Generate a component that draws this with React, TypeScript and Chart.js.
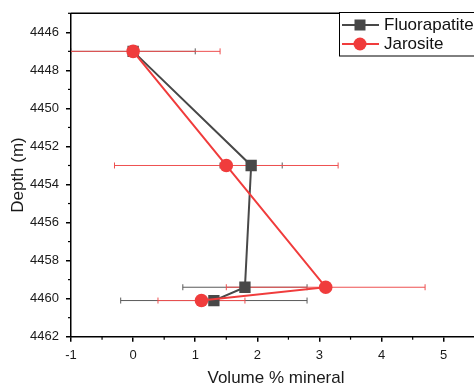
import React, { useEffect, useRef } from 'react';
import { Chart, registerables } from 'chart.js';

Chart.register(...registerables);

// ---- data ----
const seriesNames = ['Fluorapatite', 'Jarosite'];
const fluorVolume = [0, 1.9, 1.8, 1.3];
const fluorDepth = [4447, 4453, 4459.4, 4460.1];
const fluorErr = [1.0, 0.5, 1.0, 1.5];
const jarVolume = [0, 1.5, 3.1, 1.1];
const jarDepth = [4447, 4453, 4459.4, 4460.1];
const jarErr = [1.4, 1.8, 1.6, 0.7];

const xTicks = [-1, 0, 1, 2, 3, 4, 5];
const xMinorTicks = [-0.5, 0.5, 1.5, 2.5, 3.5, 4.5, 5.5];
const yTicks = [4446, 4448, 4450, 4452, 4454, 4456, 4458, 4460, 4462];
const yMinorTicks = [4445, 4447, 4449, 4451, 4453, 4455, 4457, 4459, 4461];
const xMin = -1;
const xMax = 5.6;
const yMin = 4445;
const yMax = 4462;
const xTitle = 'Volume % mineral';
const yTitle = 'Depth (m)';

const FONT = '"Liberation Sans", Arial, sans-serif';
const GRAY = 'rgb(72,72,72)';
const GRAY_ERR = 'rgb(90,90,90)';
const RED = 'rgb(240,60,60)';
const RED_ERR = 'rgb(238,80,80)';

const errorBarPlugin = {
  id: 'errorBars',
  beforeDatasetsDraw(chart: any) {
    const { ctx, chartArea, scales } = chart;
    ctx.save();
    ctx.beginPath();
    ctx.rect(chartArea.left, chartArea.top, chartArea.right - chartArea.left, chartArea.bottom - chartArea.top);
    ctx.clip();
    chart.data.datasets.forEach((ds: any) => {
      ctx.strokeStyle = ds.errColor;
      ctx.lineWidth = 1;
      ds.data.forEach((p: any, i: number) => {
        const e = ds.errX[i];
        const y = scales.y.getPixelForValue(p.y);
        const x1 = scales.x.getPixelForValue(p.x - e);
        const x2 = scales.x.getPixelForValue(p.x + e);
        ctx.beginPath();
        ctx.moveTo(x1, y);
        ctx.lineTo(x2, y);
        ctx.moveTo(x1, y - 3);
        ctx.lineTo(x1, y + 3);
        ctx.moveTo(x2, y - 3);
        ctx.lineTo(x2, y + 3);
        ctx.stroke();
      });
    });
    ctx.restore();
  },
};

const decorPlugin = {
  id: 'decor',
  afterDraw(chart: any) {
    const { ctx, chartArea, scales } = chart;
    ctx.save();
    ctx.strokeStyle = '#000';
    ctx.lineWidth = 1.5;
    // top border
    ctx.beginPath();
    ctx.moveTo(chartArea.left, chartArea.top);
    ctx.lineTo(chartArea.right, chartArea.top);
    ctx.stroke();
    // minor ticks
    ctx.lineWidth = 1.2;
    xMinorTicks.forEach((v) => {
      const x = scales.x.getPixelForValue(v);
      ctx.beginPath();
      ctx.moveTo(x, chartArea.bottom);
      ctx.lineTo(x, chartArea.bottom + 3);
      ctx.stroke();
    });
    yMinorTicks.forEach((v) => {
      const y = scales.y.getPixelForValue(v);
      ctx.beginPath();
      ctx.moveTo(chartArea.left, y);
      ctx.lineTo(chartArea.left - 3, y);
      ctx.stroke();
    });
    // legend
    const lx = 339.5;
    const ly = 12.5;
    ctx.fillStyle = '#fff';
    ctx.fillRect(lx, ly, 150, 43.5);
    ctx.strokeStyle = '#000';
    ctx.lineWidth = 1;
    ctx.strokeRect(lx, ly, 150, 43.5);
    const rows = [
      { y: 25, color: GRAY, shape: 'rect' },
      { y: 44, color: RED, shape: 'circle' },
    ];
    rows.forEach((r, i) => {
      ctx.strokeStyle = r.color;
      ctx.lineWidth = 2;
      ctx.beginPath();
      ctx.moveTo(342, r.y);
      ctx.lineTo(379, r.y);
      ctx.stroke();
      ctx.fillStyle = r.color;
      if (r.shape === 'rect') {
        ctx.fillRect(354.5, r.y - 5.5, 11, 11);
      } else {
        ctx.beginPath();
        ctx.arc(360, r.y, 6.5, 0, Math.PI * 2);
        ctx.fill();
      }
      ctx.fillStyle = '#111';
      ctx.font = `17px ${FONT}`;
      ctx.textBaseline = 'middle';
      ctx.textAlign = 'left';
      ctx.fillText(seriesNames[i], 384, r.y + 0.5);
    });
    ctx.restore();
  },
};

export default function App() {
  const canvasRef = useRef<HTMLCanvasElement>(null);

  useEffect(() => {
    if (!canvasRef.current) return;
    const chart = new Chart(canvasRef.current, {
      type: 'scatter',
      data: {
        datasets: [
          {
            label: seriesNames[0],
            data: fluorVolume.map((x, i) => ({ x, y: fluorDepth[i] })),
            showLine: true,
            order: 2,
            borderColor: GRAY,
            backgroundColor: GRAY,
            borderWidth: 2,
            pointStyle: 'rect',
            pointRadius: 8,
            pointBorderWidth: 0,
            pointBackgroundColor: GRAY,
            errX: fluorErr,
            errColor: GRAY_ERR,
          } as any,
          {
            label: seriesNames[1],
            data: jarVolume.map((x, i) => ({ x, y: jarDepth[i] })),
            showLine: true,
            order: 1,
            borderColor: RED,
            backgroundColor: RED,
            borderWidth: 2,
            pointStyle: 'circle',
            pointRadius: 6.8,
            pointBorderWidth: 0,
            pointBackgroundColor: RED,
            errX: jarErr,
            errColor: RED_ERR,
          } as any,
        ],
      },
      options: {
        animation: false,
        responsive: false,
        layout: { autoPadding: false, padding: { top: 13.3, left: 0, right: 0, bottom: 0 } },
        plugins: { legend: { display: false }, tooltip: { enabled: false } },
        scales: {
          x: {
            type: 'linear',
            min: xMin,
            max: xMax,
            afterBuildTicks: (s: any) => {
              s.ticks = xTicks.map((v) => ({ value: v }));
            },
            afterFit: (s: any) => {
              s.height = 48.3;
              s.paddingLeft = 0;
              s.paddingRight = 0;
            },
            grid: { display: true, drawOnChartArea: false, drawTicks: true, tickLength: 5, color: '#000', lineWidth: 1.5 },
            border: { display: true, color: '#000', width: 1.5 },
            ticks: {
              padding: 6,
              color: '#1a1a1a',
              font: { size: 13, family: FONT },
              maxRotation: 0,
              autoSkip: false,
              callback: (v: any) => String(v),
            },
            title: {
              display: true,
              text: xTitle,
              color: '#1a1a1a',
              font: { size: 17, family: FONT, lineHeight: 1 },
              padding: { top: 0, bottom: -1.5 },
            },
          },
          y: {
            type: 'linear',
            reverse: true,
            min: yMin,
            max: yMax,
            afterBuildTicks: (s: any) => {
              s.ticks = yTicks.map((v) => ({ value: v }));
            },
            afterFit: (s: any) => {
              s.width = 71;
              s.paddingTop = 0;
              s.paddingBottom = 0;
            },
            grid: { display: true, drawOnChartArea: false, drawTicks: true, tickLength: 5, color: '#000', lineWidth: 1.5 },
            border: { display: true, color: '#000', width: 1.5 },
            ticks: {
              padding: 7,
              color: '#1a1a1a',
              font: { size: 13, family: FONT },
              autoSkip: false,
              callback: (v: any) => String(v),
            },
            title: {
              display: true,
              text: yTitle,
              color: '#1a1a1a',
              font: { size: 17, family: FONT, lineHeight: 1 },
              padding: { top: 9.5, bottom: 0 },
            },
          },
        },
      },
      plugins: [errorBarPlugin, decorPlugin],
    } as any);
    return () => chart.destroy();
  }, []);

  return (
    <div style={{ position: 'fixed', left: 0, top: 0, width: 474, height: 385, overflow: 'hidden', background: '#fff' }}>
      <canvas ref={canvasRef} width={481} height={385} style={{ display: 'block', width: 481, height: 385 }} />
    </div>
  );
}
